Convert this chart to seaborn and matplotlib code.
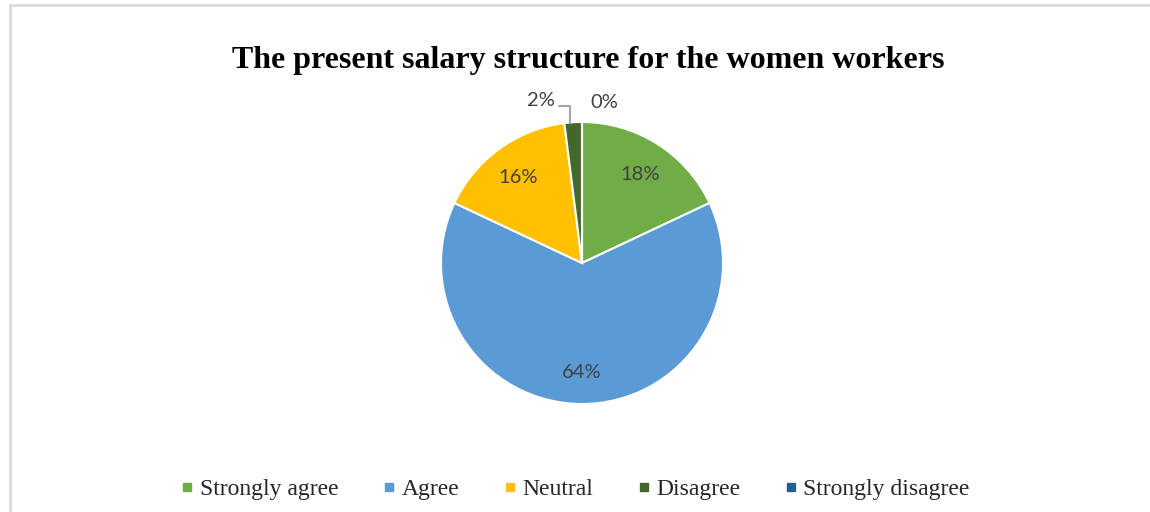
import numpy as np
import matplotlib
matplotlib.use("Agg")
import matplotlib.pyplot as plt
from matplotlib.lines import Line2D
from matplotlib.patches import Rectangle
import seaborn as sns

# survey answers (share of respondents, %)
categories = ["Strongly agree", "Agree", "Neutral", "Disagree", "Strongly disagree"]
shares = [18, 64, 16, 2, 0]
colors = ["#70AD47", "#5B9BD5", "#FFC000", "#43682B", "#255E91"]
title = "The present salary structure for the women workers"

sns.set_theme(style="white")
plt.rcParams["font.family"] = ["Liberation Serif", "DejaVu Serif"]

fig = plt.figure(figsize=(11.5, 5.12), dpi=100)
ax = fig.add_axes([0, 0, 1, 1])

wedges, _ = ax.pie(shares, colors=colors, startangle=90, counterclock=False,
                   radius=1.0, wedgeprops=dict(edgecolor="white", linewidth=1.5))
ax.set_aspect("auto")
ax.set_xlim(-582 / 141, (1150 - 582) / 141)
ax.set_ylim(-249 / 141, 263 / 141)
ax.axis("off")

lab_font = dict(family=["Lato", "DejaVu Sans"], fontsize=14.5, color="#404040",
                ha="center", va="center")
for w, s in zip(wedges, shares):
    mid = np.deg2rad((w.theta1 + w.theta2) / 2)
    if s >= 5:
        r = 0.765
        ax.text(r * np.cos(mid), r * np.sin(mid) - 0.015, f"{s}%", **lab_font)

# small slices: labels outside
d = wedges[3]
mid = np.deg2rad((d.theta1 + d.theta2) / 2)
x0, y0 = np.cos(mid), np.sin(mid)
ax.plot([x0 - 0.02, x0 - 0.02, -0.16], [0.99, 1.11, 1.11], color="#A6A6A6", lw=1.5)
ax.text(-0.29, 1.15, f"{shares[3]}%", **lab_font)
ax.text(0.155, 1.135, f"{shares[4]}%", **lab_font)

fig.text(588 / 1150, 1 - 68 / 512, title, ha="center", va="baseline",
         fontsize=23, fontweight="bold", color="black")

handles = [Line2D([], [], marker="s", linestyle="", markersize=5.5,
                  markerfacecolor=c, markeredgecolor=c) for c in colors]
fig.legend(handles, categories, loc="center", bbox_to_anchor=(575 / 1150, 1 - 489 / 512),
           ncol=5, frameon=False, fontsize=17, handlelength=0.6, handletextpad=0.22,
           columnspacing=1.85)

fig.add_artist(Rectangle((10 / 1150, -0.1), 1.2, (1 - 5 / 512) + 0.1,
                         transform=fig.transFigure, fill=False,
                         edgecolor="#D9D9D9", linewidth=2))

fig.savefig("out.png", dpi=100, facecolor="white")
